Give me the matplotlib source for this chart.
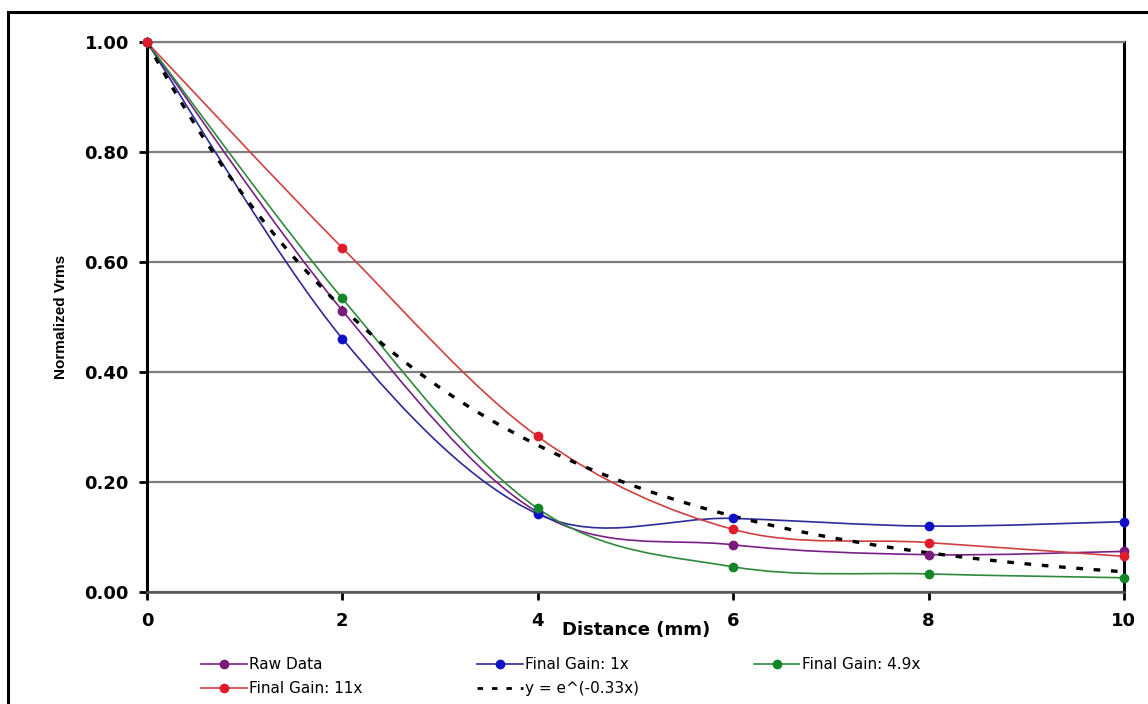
import numpy as np
import matplotlib
matplotlib.use("Agg")
import matplotlib.pyplot as plt
from matplotlib.path import Path
from matplotlib.patches import PathPatch, Rectangle
from matplotlib.lines import Line2D

plt.rcParams['font.family'] = ['DejaVu Sans']

distance = [0, 2, 4, 6, 8, 10]
raw_data = [1.00, 0.512, 0.145, 0.086, 0.068, 0.074]
gain_1x = [1.00, 0.461, 0.142, 0.134, 0.120, 0.128]
gain_4_9x = [1.00, 0.534, 0.152, 0.046, 0.033, 0.026]
gain_11x = [1.00, 0.626, 0.283, 0.114, 0.090, 0.065]
fit_rate = 0.33

series = [
    ("Raw Data", raw_data, "#7a1f86", "#7a1a7a"),
    ("Final Gain: 1x", gain_1x, "#2a2a9a", "#1010c8"),
    ("Final Gain: 4.9x", gain_4_9x, "#2e8a3a", "#13862a"),
    ("Final Gain: 11x", gain_11x, "#d04040", "#e01c2c"),
]


def smooth_path(x, y):
    # cubic bezier segments through the points (catmull-rom style tangents)
    pts = np.column_stack([x, y]).astype(float)
    ext = np.vstack([pts[0], pts, pts[-1]])
    verts = [pts[0]]
    codes = [Path.MOVETO]
    for i in range(len(pts) - 1):
        p0, p1, p2, p3 = ext[i], ext[i + 1], ext[i + 2], ext[i + 3]
        verts += [p1 + (p2 - p0) / 6.0, p2 - (p3 - p1) / 6.0, p2]
        codes += [Path.CURVE4] * 3
    return Path(verts, codes)


fig = plt.figure(figsize=(11.48, 7.04), dpi=100)
ax = fig.add_axes([0.128, 0.159, 0.851, 0.781])

ax.set_xlim(0, 10)
ax.set_ylim(0, 1.0)
ax.set_yticks(np.arange(0, 1.01, 0.2))
ax.set_xticks(distance)
ax.set_yticklabels(["%.2f" % v for v in np.arange(0, 1.01, 0.2)])
ax.yaxis.grid(True, color="#7f7f7f", linewidth=1.6)
ax.set_axisbelow(True)

for s in ["left", "right"]:
    ax.spines[s].set_color("black")
    ax.spines[s].set_linewidth(2.2)
ax.spines["top"].set_color("#7f7f7f")
ax.spines["top"].set_linewidth(1.6)
ax.spines["bottom"].set_color("#555555")
ax.spines["bottom"].set_linewidth(1.8)

ax.tick_params(axis="both", direction="out", length=6, width=2, colors="black",
               labelsize=13)
ax.tick_params(axis="x", pad=8)
ax.tick_params(axis="y", pad=7)
for lbl in ax.get_xticklabels() + ax.get_yticklabels():
    lbl.set_fontweight("bold")

handles = {}
for name, vals, lc, mc in series:
    ax.add_patch(PathPatch(smooth_path(distance, vals), fill=False,
                           edgecolor=lc, linewidth=1.2, zorder=3))
    ax.plot(distance, vals, "o", color=mc, markersize=6, clip_on=False, zorder=4)
    handles[name] = Line2D([], [], color=lc, linewidth=1.2, marker="o",
                           markersize=6, markerfacecolor=mc, markeredgecolor=mc)

# exponential trendline
x_fit = np.linspace(0, 10, 300)
ax.plot(x_fit, np.exp(-fit_rate * x_fit), color="black", linewidth=2.4,
        dashes=(2.0, 3.2), zorder=3)
handles["fit"] = Line2D([], [], color="black", linewidth=2.0, dashes=(2.0, 3.2))

order = ["Raw Data", "Final Gain: 11x", "Final Gain: 1x", "fit", "Final Gain: 4.9x"]
labels = {"fit": "y = e^(-0.33x)"}
leg = fig.legend([handles[k] for k in order], [labels.get(k, k) for k in order],
                 ncol=3, loc="lower left", bbox_to_anchor=(0.163, -0.008),
                 frameon=False, fontsize=11, handlelength=3.0, handletextpad=0.15,
                 columnspacing=7.5, labelspacing=0.55)

ax.set_ylabel("Normalized Vrms", fontsize=11, fontweight="bold",
              family=["Liberation Sans Narrow", "Liberation Sans", "DejaVu Sans"],
              labelpad=12)
fig.text(0.554, 0.105, "Distance (mm)", ha="center", va="center",
         fontsize=13, fontweight="bold")

# outer chart frame
fig.patches.append(Rectangle((8 / 1148, -0.05), 1.2, 1 - 12 / 704 + 0.05,
                             transform=fig.transFigure, fill=False,
                             edgecolor="black", linewidth=2.2))

fig.savefig("out.png", dpi=100)
